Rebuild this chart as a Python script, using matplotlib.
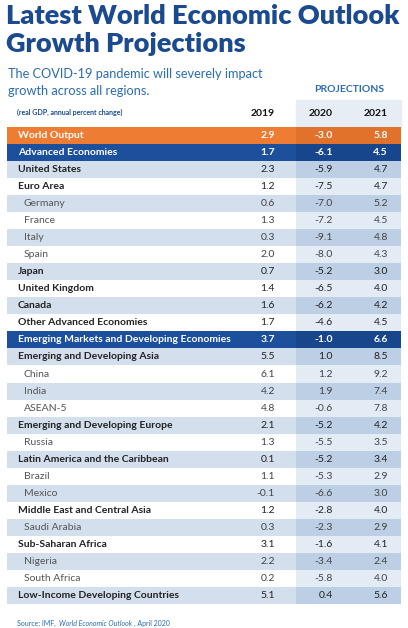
import matplotlib.pyplot as plt
from matplotlib.patches import Rectangle

plt.rcParams['font.family'] = ['Lato', 'DejaVu Sans']

names = ["World Output", "Advanced Economies", "United States", "Euro Area", "Germany",
         "France", "Italy", "Spain", "Japan", "United Kingdom", "Canada",
         "Other Advanced Economies", "Emerging Markets and Developing Economies",
         "Emerging and Developing Asia", "China", "India", "ASEAN-5",
         "Emerging and Developing Europe", "Russia", "Latin America and the Caribbean",
         "Brazil", "Mexico", "Middle East and Central Asia", "Saudi Arabia",
         "Sub-Saharan Africa", "Nigeria", "South Africa", "Low-Income Developing Countries"]
# 0 = group (bold), 1 = country (indented), 2 = orange band, 3 = blue band
kind = [2, 3, 0, 0, 1, 1, 1, 1, 0, 0, 0, 0, 3, 0, 1, 1, 1, 0, 1, 0, 1, 1, 0, 1, 0, 1, 1, 0]
y2019 = [2.9, 1.7, 2.3, 1.2, 0.6, 1.3, 0.3, 2.0, 0.7, 1.4, 1.6, 1.7, 3.7, 5.5, 6.1, 4.2, 4.8,
         2.1, 1.3, 0.1, 1.1, -0.1, 1.2, 0.3, 3.1, 2.2, 0.2, 5.1]
y2020 = [-3.0, -6.1, -5.9, -7.5, -7.0, -7.2, -9.1, -8.0, -5.2, -6.5, -6.2, -4.6, -1.0, 1.0, 1.2,
         1.9, -0.6, -5.2, -5.5, -5.2, -5.3, -6.6, -2.8, -2.3, -1.6, -3.4, -5.8, 0.4]
y2021 = [5.8, 4.5, 4.7, 4.7, 5.2, 4.5, 4.8, 4.3, 3.0, 4.0, 4.2, 4.5, 6.6, 8.5, 9.2, 7.4, 7.8,
         4.2, 3.5, 3.4, 2.9, 3.0, 4.0, 2.9, 4.1, 2.4, 4.0, 5.6]
years = ["2019", "2020", "2021"]

navy = "#1b4a8f"
fig = plt.figure(figsize=(4.08, 6.28), dpi=100)
fig.patch.set_facecolor("white")
ax = fig.add_axes([0, 0, 1, 1])
ax.set_xlim(0, 408)
ax.set_ylim(628, 0)
ax.axis("off")

ax.text(6, 16, "Latest World Economic Outlook", fontsize=19.5, fontweight="heavy", color=navy, va="center")
ax.text(6, 44, "Growth Projections", fontsize=19.5, fontweight="heavy", color=navy, va="center")
ax.text(8, 74, "The COVID-19 pandemic will severely impact", fontsize=9.2, color="#2a6cb0", va="center")
ax.text(8, 91, "growth across all regions.", fontsize=9.2, color="#2a6cb0", va="center")
ax.text(349, 90, "PROJECTIONS", fontsize=7.5, fontweight="bold", color="#2a6cb0", va="center", ha="center")
ax.text(17, 112, "(real GDP, annual percent change)", fontsize=5, fontweight="bold", color=navy, va="center")

col_x = [275, 333, 388]
for x, yr in zip(col_x, years):
    ax.text(x, 113, yr, fontsize=7.5, fontweight="bold", color="#111111", ha="right", va="center")

row_h = 17.07
top = 126.5
left, right = 7, 401
proj_l = 296
ax.add_patch(Rectangle((proj_l, 100), right - proj_l, top - 100, color="#e6edf5", zorder=0))

stripe = 0
for i, name in enumerate(names):
    y0 = top + i * row_h
    yc = y0 + row_h / 2
    k = kind[i]
    if k == 2:
        bg, bgp, tc, fw = "#ee7d33", "#e0722c", "white", "bold"
    elif k == 3:
        bg, bgp, tc, fw = "#1c4f9c", "#18468c", "white", "bold"
    else:
        light = stripe % 2 == 0
        stripe += 1
        bg = "#d3dfed" if light else "white"
        bgp = "#bccfe4" if light else "#e3ebf4"
        tc = "#222222" if k == 0 else "#555555"
        fw = "bold" if k == 0 else "normal"
    ax.add_patch(Rectangle((left, y0), proj_l - left, row_h, color=bg, zorder=1, lw=0))
    ax.add_patch(Rectangle((proj_l, y0), right - proj_l, row_h, color=bgp, zorder=1, lw=0))
    lx = 24 if k == 1 else 18
    ax.text(lx, yc, name, fontsize=7.5, fontweight=fw, color=tc, va="center", zorder=2)
    for x, v in zip(col_x, (y2019[i], y2020[i], y2021[i])):
        ax.text(x, yc, f"{v:.1f}", fontsize=7.5, fontweight="bold" if k >= 2 else "normal",
                color=tc if k != 1 else "#444444", ha="right", va="center", zorder=2)

# source line: chain the pieces one after the other
fig.canvas.draw()
r = fig.canvas.get_renderer()
x = 17
for part, st in [("Source: IMF, ", "normal"), ("World Economic Outlook", "italic"), (", April 2020", "normal")]:
    t = ax.text(x, 623, part, fontsize=5, color="#2a6cb0", va="center", style=st)
    bb = t.get_window_extent(r)
    x += bb.width + 1.5

fig.savefig("out.png", dpi=100)
